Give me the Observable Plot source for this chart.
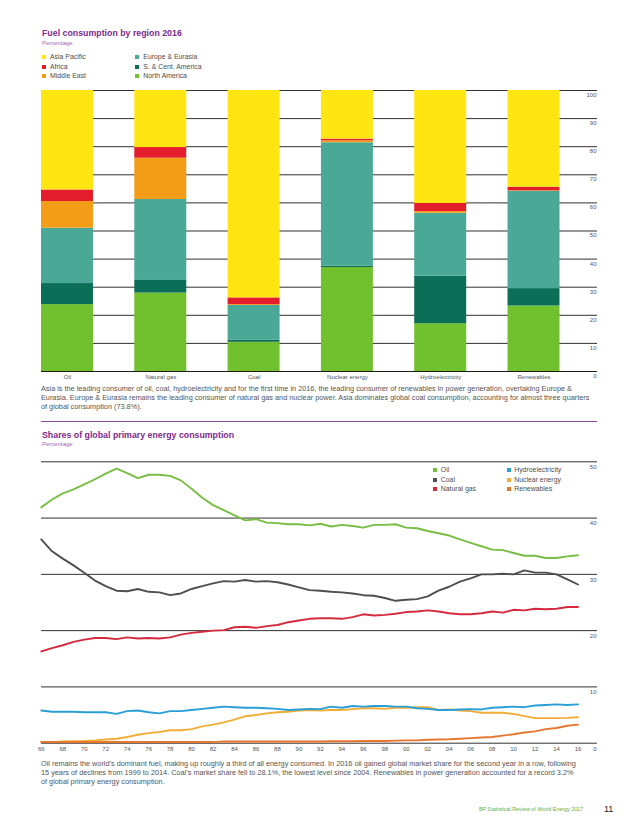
<!DOCTYPE html>
<html><head><meta charset="utf-8">
<script src="https://cdn.jsdelivr.net/npm/d3@7"></script>
<script src="https://cdn.jsdelivr.net/npm/@observablehq/plot@0.6"></script>
<style>
html,body{margin:0;padding:0;background:#fff;}
body{width:638px;height:831px;position:relative;overflow:hidden;font-family:"Liberation Sans",Arial,sans-serif;}
.abs{position:absolute;white-space:nowrap;}
.title{font-weight:bold;font-size:8.8px;color:#7d2b8b;line-height:10px;}
.sub{font-size:6px;color:#a06aae;line-height:6px;}
.leg{font-size:6.9px;color:#4d4d4d;line-height:8px;}
.sw{position:absolute;width:4px;height:4px;}
.cap{font-size:7.3px;color:#555;line-height:9px;}
.chart{position:absolute;left:0;}
</style></head><body>
<div class="abs title" style="left:42px;top:28px">Fuel consumption by region 2016</div>
<div class="abs sub" style="left:42px;top:40.3px">Percentage</div>
<div id="legend1"></div>
<div id="chart1" class="chart" style="top:80px"></div>
<div class="abs cap" style="left:41px;top:384px">Asia is the leading consumer of oil, coal, hydroelectricity and for the first time in 2016, the leading consumer of renewables in power generation, overtaking Europe &amp;<br>Eurasia. Europe &amp; Eurasia remains the leading consumer of natural gas and nuclear power. Asia dominates global coal consumption, accounting for almost three quarters<br>of global consumption (73.8%).</div>
<div class="abs" style="left:41px;top:420.5px;width:556px;height:1px;background:#8b4a9b"></div>
<div class="abs title" style="left:42px;top:430px">Shares of global primary energy consumption</div>
<div class="abs sub" style="left:42px;top:441.3px">Percentage</div>
<div id="chart2" class="chart" style="top:450px"></div>
<div id="legend2"></div>
<div class="abs cap" style="left:41px;top:758.5px">Oil remains the world’s dominant fuel, making up roughly a third of all energy consumed. In 2016 oil gained global market share for the second year in a row, following<br>15 years of declines from 1999 to 2014. Coal’s market share fell to 28.1%, the lowest level since 2004. Renewables in power generation accounted for a record 3.2%<br>of global primary energy consumption.</div>
<div class="abs" style="left:479px;top:805.5px;font-size:5.4px;line-height:6px;color:#5fb04a">BP Statistical Review of World Energy 2017</div>
<div class="abs" style="left:604px;top:803.5px;font-size:9px;line-height:10px;color:#222">11</div>
<script>
// ---- Chart 1: Fuel consumption by region 2016 (percentage) ----
const fuels = ["Oil","Natural gas","Coal","Nuclear energy","Hydroelectricity","Renewables"];
const regions = ["North America","S. & Cent. America","Europe & Eurasia","Middle East","Africa","Asia Pacific"];
const regionColors = ["#71c02e","#0b6e56","#4aa996","#f39c17","#e31d2c","#ffe612"];
const northAmerica        = [23.8, 27.9, 10.4, 37.0, 17.0, 23.3];
const southCentralAmerica = [ 7.5,  4.5,  0.8,  0.5, 16.9,  6.2];
const europeEurasia       = [19.7, 28.8, 12.3, 43.9, 22.4, 34.6];
const middleEast          = [ 9.5, 14.7,  0.3,  0.7,  0.6,  0.2];
const africa              = [ 4.1,  3.8,  2.4,  0.6,  2.9,  1.3];
const asiaPacific         = [35.4, 20.3, 73.8, 17.3, 40.2, 34.4];
const pctTicks = [0,10,20,30,40,50,60,70,80,90,100];
const legend1Order = ["Asia Pacific","Africa","Middle East","Europe & Eurasia","S. & Cent. America","North America"];

// ---- Chart 2: Shares of global primary energy consumption ----
const years = [1966,1967,1968,1969,1970,1971,1972,1973,1974,1975,1976,1977,1978,1979,1980,1981,1982,1983,1984,1985,1986,1987,1988,1989,1990,1991,1992,1993,1994,1995,1996,1997,1998,1999,2000,2001,2002,2003,2004,2005,2006,2007,2008,2009,2010,2011,2012,2013,2014,2015,2016];
const oil = [41.9,43.3,44.4,45.1,46.0,46.9,47.9,48.8,48.0,47.1,47.7,47.7,47.5,46.7,45.2,43.6,42.3,41.4,40.5,39.6,39.8,39.2,39.1,38.9,38.9,38.7,39.0,38.5,38.8,38.6,38.3,38.8,38.8,38.9,38.3,38.2,37.7,37.3,36.9,36.2,35.6,35.0,34.4,34.3,33.8,33.3,33.3,32.9,32.9,33.2,33.4];
const coal = [36.2,34.1,32.8,31.6,30.3,28.9,27.9,27.1,27.0,27.4,26.9,26.8,26.3,26.6,27.4,27.9,28.4,28.8,28.7,29.0,28.7,28.8,28.6,28.2,27.7,27.2,27.1,26.9,26.8,26.6,26.3,26.2,25.8,25.3,25.5,25.6,26.1,27.1,27.8,28.7,29.3,30.0,30.0,30.1,30.0,30.7,30.3,30.3,30.0,29.1,28.2];
const naturalGas = [16.3,16.9,17.4,18.0,18.4,18.7,18.7,18.5,18.8,18.6,18.7,18.6,18.8,19.3,19.6,19.8,20.0,20.1,20.6,20.7,20.5,20.8,21.0,21.5,21.8,22.1,22.2,22.2,22.1,22.4,22.9,22.7,22.8,23.0,23.3,23.4,23.6,23.4,23.1,22.9,22.9,23.1,23.4,23.2,23.7,23.6,23.9,23.8,23.9,24.2,24.2];
const hydro = [5.8,5.6,5.6,5.6,5.5,5.5,5.5,5.2,5.7,5.8,5.5,5.3,5.7,5.7,5.9,6.1,6.3,6.5,6.4,6.3,6.3,6.2,6.1,5.9,6.0,6.1,6.05,6.5,6.3,6.6,6.5,6.6,6.6,6.5,6.5,6.2,6.1,5.9,5.9,6.0,6.05,6.0,6.3,6.4,6.5,6.4,6.7,6.8,6.9,6.8,6.9];
const nuclear = [0.2,0.2,0.3,0.35,0.4,0.5,0.65,0.8,1.1,1.5,1.8,2.0,2.3,2.3,2.5,3.0,3.3,3.7,4.2,4.8,5.0,5.3,5.5,5.6,5.8,5.9,5.8,5.9,5.9,6.05,6.2,6.2,6.1,6.3,6.3,6.4,6.4,5.9,6.0,5.8,5.7,5.4,5.4,5.4,5.2,4.8,4.45,4.45,4.45,4.5,4.6];
const renewables = [0.2,0.2,0.2,0.2,0.2,0.2,0.2,0.2,0.2,0.2,0.2,0.2,0.2,0.2,0.2,0.2,0.2,0.3,0.3,0.3,0.3,0.3,0.3,0.3,0.3,0.3,0.3,0.35,0.35,0.35,0.4,0.4,0.4,0.45,0.5,0.5,0.6,0.65,0.7,0.8,0.9,1.0,1.1,1.35,1.6,1.9,2.1,2.5,2.7,3.1,3.3];
const fuelNames = ["Oil","Coal","Natural gas","Hydroelectricity","Nuclear energy","Renewables"];
const fuelColors = ["#77be43","#4e4e50","#d5293d","#2a9fd6","#f1ad38","#e5772e"];
const shareTicks = [0,10,20,30,40,50];
const tickYears = [1966,1968,1970,1972,1974,1976,1978,1980,1982,1984,1986,1988,1990,1992,1994,1996,1998,2000,2002,2004,2006,2008,2010,2012,2014,2016];
const tickLabels = ["66","68","70","72","74","76","78","80","82","84","86","88","90","92","94","96","98","00","02","04","06","08","10","12","14","16"];

// ---- build chart 1 ----
const regionSeries = [northAmerica, southCentralAmerica, europeEurasia, middleEast, africa, asiaPacific];
const shareRows = regions.flatMap((r, i) => fuels.map((f, j) => ({fuel: f, region: r, value: regionSeries[i][j]})));
const svgStyle = {fontFamily: "Liberation Sans, Arial, sans-serif", fontSize: "6px", color: "#555", background: "transparent", overflow: "visible"};

const chart1 = Plot.plot({
  width: 638, height: 305,
  marginTop: 10, marginBottom: 14, marginLeft: 41, marginRight: 41,
  style: svgStyle,
  x: {domain: fuels, paddingInner: 0.443, paddingOuter: 0.201, align: 0, round: false, label: null},
  y: {domain: [0, 100], label: null},
  color: {domain: regions, range: regionColors},
  marks: [
    Plot.ruleY(pctTicks, {stroke: "#1a1a1a", strokeWidth: 0.9}),
    Plot.barY(shareRows, {x: "fuel", y: "value", fill: "region", z: "region", order: regions}),
    Plot.ruleY([0], {stroke: "#1a1a1a", strokeWidth: 0.9}),
    Plot.axisX({tickSize: 0, tickPadding: 3, fontSize: 6, label: null}),
    Plot.axisY({anchor: "right", ticks: pctTicks, tickSize: 0, tickPadding: -1, textAnchor: "end", dy: 4.5, fontSize: 6, label: null})
  ]
});
document.getElementById("chart1").appendChild(chart1);

// legend 1
const leg1 = document.getElementById("legend1");
legend1Order.forEach((name, k) => {
  const col = Math.floor(k / 3), row = k % 3;
  const cy = [57.3, 66.7, 76][row];
  const sx = col === 0 ? 42 : 135.3;
  const sw = document.createElement("div");
  sw.className = "sw";
  sw.style.left = sx + "px"; sw.style.top = (cy - 2) + "px";
  sw.style.background = regionColors[regions.indexOf(name)];
  leg1.appendChild(sw);
  const t = document.createElement("div");
  t.className = "abs leg";
  t.style.left = (sx + 8) + "px"; t.style.top = (cy - 4) + "px";
  t.textContent = name;
  leg1.appendChild(t);
});

// ---- build chart 2 ----
const seriesValues = {"Oil": oil, "Coal": coal, "Natural gas": naturalGas, "Hydroelectricity": hydro, "Nuclear energy": nuclear, "Renewables": renewables};
const drawOrder = ["Nuclear energy","Renewables","Hydroelectricity","Natural gas","Coal","Oil"];
const chart2 = Plot.plot({
  width: 638, height: 305,
  marginTop: 11.3, marginBottom: 12.3, marginLeft: 41, marginRight: 41,
  style: svgStyle,
  x: {domain: [1966, 2016], range: [40.8, 577.5], label: null},
  y: {domain: [0, 50], label: null},
  marks: [
    Plot.ruleY(shareTicks, {stroke: "#1a1a1a", strokeWidth: 0.9}),
    ...drawOrder.map(name => Plot.line(years, {
      x: years, y: seriesValues[name],
      stroke: fuelColors[fuelNames.indexOf(name)], strokeWidth: 1.9, curve: "linear"
    })),
    Plot.axisX({ticks: tickYears, tickFormat: d => tickLabels[tickYears.indexOf(d)], tickSize: 0, tickPadding: 3.5, fontSize: 6, label: null}),
    Plot.axisY({anchor: "right", ticks: shareTicks, tickSize: 0, tickPadding: -1, textAnchor: "end", dy: 5.4, fontSize: 6, label: null})
  ]
});
document.getElementById("chart2").appendChild(chart2);

// legend 2
const leg2 = document.getElementById("legend2");
fuelNames.forEach((name, k) => {
  const col = Math.floor(k / 3), row = k % 3;
  const cy = [470.3, 479.7, 489][row];
  const sx = col === 0 ? 433.3 : 506.7;
  const sw = document.createElement("div");
  sw.className = "sw";
  sw.style.left = sx + "px"; sw.style.top = (cy - 2) + "px";
  sw.style.background = fuelColors[k];
  leg2.appendChild(sw);
  const t = document.createElement("div");
  t.className = "abs leg";
  t.style.left = (sx + 7.5) + "px"; t.style.top = (cy - 4) + "px";
  t.textContent = name;
  leg2.appendChild(t);
});
</script>
</body></html>
